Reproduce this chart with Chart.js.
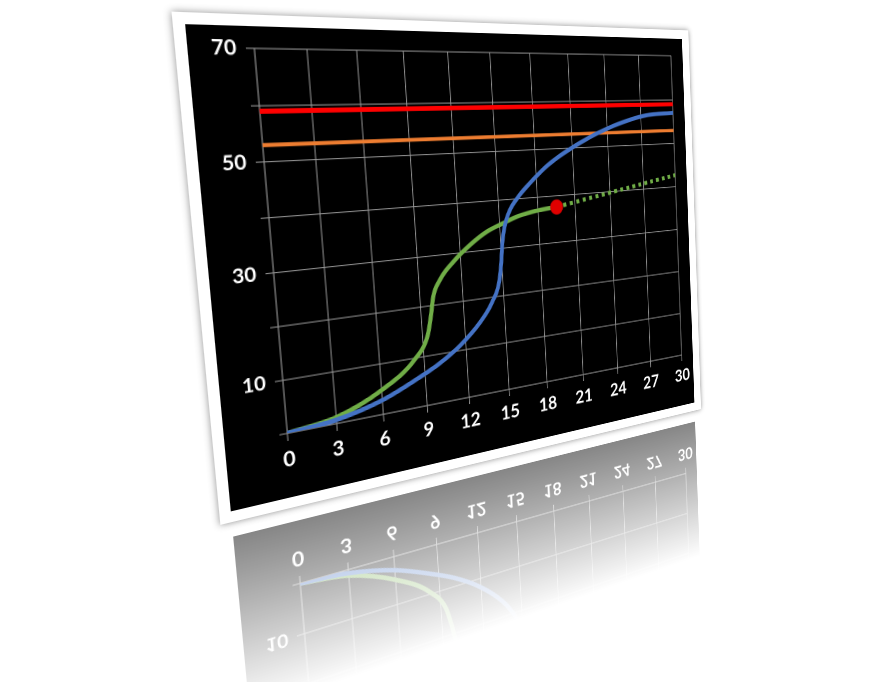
<!DOCTYPE html>
<html lang="en">
<head>
<meta charset="UTF-8">
<title>S-curve</title>
<style>
  html, body { margin: 0; padding: 0; background: #fff; width: 875px; height: 682px; overflow: hidden; }
  #frame {
    position: absolute; left: 0; top: 0;
    border: 11px solid #fff;
    background: #000;
    box-shadow: 0 0 7px rgba(0,0,0,0.45);
    transform-origin: 0 0;
    -webkit-box-reflect: below 4px linear-gradient(to bottom, transparent 60%, rgba(255,255,255,0.5));
  }
  #frame canvas { display: block; }
</style>
</head>
<body>
<div id="frame"><canvas id="chart" width="600" height="472"></canvas></div>

<script src="https://cdn.jsdelivr.net/npm/chart.js@4.4.1/dist/chart.umd.min.js"></script>
<script>
// values
const blueX = [0, 3, 6, 8.6, 10.1, 11.6, 13.1, 14.1, 14.7, 14.95, 15.1, 15.35, 15.8, 16.5, 17.3, 19, 21.7, 24.6, 27.5, 30];
const blueY = [0, 0.7, 2.8, 6.0, 8.2, 11.1, 15.1, 19.0, 22.9, 26.9, 30.6, 34.3, 37.6, 40.3, 42.6, 46.7, 51.1, 54.5, 56.6, 57];

const greenX = [0, 3, 6, 8.3, 9.35, 9.68, 9.9, 10.45, 11.5, 12.8, 14, 15.3, 16.5, 18, 19.5];
const greenY = [0, 1.2, 4.8, 9.6, 14.2, 18.3, 21.7, 25.0, 28.4, 31.5, 33.7, 35.2, 36.4, 37.2, 37.6];

const forecastX = [19.5, 30];
const forecastY = [37.6, 42.7];

const limitX = [0, 30];
const redY = [59, 59];
const orangeY = [53, 53];

const yLabels = [10, 30, 50, 70];

// where the plot corners sit on the page (tl, tr, br, bl)
const target = [[254.3, 48.3], [671, 55.7], [681.7, 355], [287.3, 433.3]];

const pts = (xs, ys) => xs.map((x, i) => ({ x: x, y: ys[i] }));

Chart.defaults.font.family = 'Lato';

const line = (data, color, extra) => Object.assign({
  data: data,
  borderColor: color,
  backgroundColor: color,
  borderWidth: 5,
  pointRadius: 0,
  fill: false,
  cubicInterpolationMode: 'monotone'
}, extra || {});

const chart = new Chart(document.getElementById('chart'), {
  type: 'line',
  data: {
    datasets: [
      { data: pts([forecastX[0]], [forecastY[0]]), showLine: false, pointRadius: 8.5,
        pointBackgroundColor: '#e00000', pointBorderColor: '#c00000', pointBorderWidth: 1 },
      line(pts(blueX, blueY), '#4472c4'),
      line(pts(greenX, greenY), '#70ad47'),
      line(pts(forecastX, forecastY), '#70ad47', { borderDash: [4.5, 5], borderCapStyle: 'butt' }),
      line(pts(limitX, redY), '#ff0000', { borderWidth: 5 }),
      line(pts(limitX, orangeY), '#ed7d31', { borderWidth: 4 })
    ]
  },
  options: {
    responsive: false,
    animation: false,
    devicePixelRatio: 2,
    layout: { padding: { left: 0, right: 18, top: 17, bottom: 0 } },
    plugins: { legend: { display: false }, tooltip: { enabled: false } },
    scales: {
      x: {
        type: 'linear', min: 0, max: 30,
        afterFit: s => { s.height = 67; },
        ticks: { stepSize: 3, color: '#fff', padding: 6, font: { size: 22, weight: 'bold' } },
        grid: { color: 'rgba(155,155,155,0.9)', lineWidth: 1.1, tickLength: 8 },
        border: { color: 'rgba(155,155,155,0.9)' }
      },
      y: {
        min: 0, max: 70,
        afterFit: s => { s.width = 62; },
        ticks: {
          stepSize: 10, color: '#fff', padding: 9, font: { size: 20, weight: 'bold' },
          callback: v => yLabels.includes(v) ? v : ''
        },
        grid: { color: 'rgba(155,155,155,0.9)', lineWidth: 1.1, tickLength: 8 },
        border: { color: 'rgba(155,155,155,0.9)' }
      }
    }
  }
});

// square -> quad homography
function quadMatrix(p) {
  const [x0, y0] = p[0], [x1, y1] = p[1], [x2, y2] = p[2], [x3, y3] = p[3];
  const dx1 = x1 - x2, dx2 = x3 - x2, dx3 = x0 - x1 + x2 - x3;
  const dy1 = y1 - y2, dy2 = y3 - y2, dy3 = y0 - y1 + y2 - y3;
  const det = dx1 * dy2 - dx2 * dy1;
  const g = (dx3 * dy2 - dx2 * dy3) / det, h = (dx1 * dy3 - dx3 * dy1) / det;
  return [x1 - x0 + g * x1, x3 - x0 + h * x3, x0,
          y1 - y0 + g * y1, y3 - y0 + h * y3, y0,
          g, h, 1];
}

function mul(A, B) {
  const r = [];
  for (let i = 0; i < 3; i++)
    for (let j = 0; j < 3; j++)
      r.push(A[i * 3] * B[j] + A[i * 3 + 1] * B[3 + j] + A[i * 3 + 2] * B[6 + j]);
  return r;
}

const ca = chart.chartArea;
const bw = 11;
const sx = ca.left + bw, sy = ca.top + bw, sw = ca.right - ca.left, sh = ca.bottom - ca.top;
const toUnit = [1 / sw, 0, -sx / sw, 0, 1 / sh, -sy / sh, 0, 0, 1];
const m = mul(quadMatrix(target), toUnit);
document.getElementById('frame').style.transform =
  'matrix3d(' + [m[0], m[3], 0, m[6], m[1], m[4], 0, m[7], 0, 0, 1, 0, m[2], m[5], 0, m[8]].join(',') + ')';
</script>
</body>
</html>
